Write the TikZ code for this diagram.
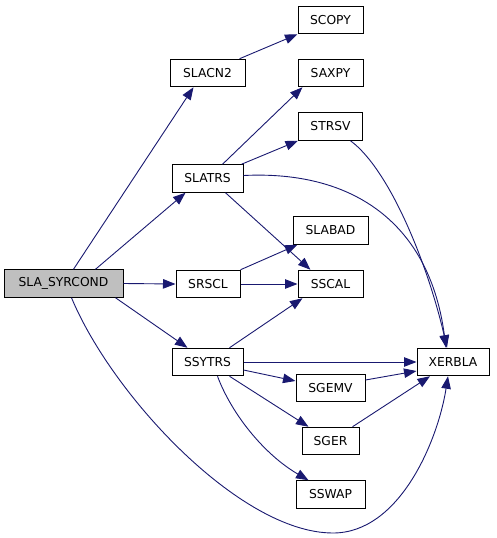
\documentclass[tikz,border=0pt]{standalone}
\usepackage{fontspec}
\setmainfont{DejaVu Sans}
\usetikzlibrary{arrows.meta}
\definecolor{edgec}{RGB}{25,25,112}
\begin{document}
\begin{tikzpicture}[x=1pt,y=-1pt,
  box/.style={draw=black, line width=1pt, fill=white, minimum height=27.5pt, inner sep=0pt,
    font=\fontsize{12.3}{14}\selectfont},
  e/.style={draw=edgec, line width=0.9pt, -{Triangle[length=12.5pt,width=9.5pt]}}]
\useasboundingbox (0,0) rectangle (496,538);
\node[box, minimum width=119pt, fill=gray!50] (main) at (63.5,283.5) {SLA\_SYRCOND};
\node[box, minimum width=75pt] (slacn2) at (207.5,73) {SLACN2};
\node[box, minimum width=65pt] (scopy) at (330.5,20) {SCOPY};
\node[box, minimum width=65pt] (saxpy) at (330.5,73) {SAXPY};
\node[box, minimum width=64pt] (strsv) at (330.5,126.5) {STRSV};
\node[box, minimum width=71pt] (slatrs) at (207.5,178.5) {SLATRS};
\node[box, minimum width=75pt] (slabad) at (330.5,230.5) {SLABAD};
\node[box, minimum width=64pt] (srscl) at (208,284) {SRSCL};
\node[box, minimum width=65pt] (sscal) at (330.5,284) {SSCAL};
\node[box, minimum width=71pt] (ssytrs) at (207.5,362) {SSYTRS};
\node[box, minimum width=72pt] (xerbla) at (453,362) {XERBLA};
\node[box, minimum width=69pt] (sgemv) at (330.5,388) {SGEMV};
\node[box, minimum width=57pt] (sger) at (330.5,441) {SGER};
\node[box, minimum width=69pt] (sswap) at (330.5,494.5) {SSWAP};

\draw[e] ([xshift=10pt]main.north) -- ([xshift=-14pt]slacn2.south);
\draw[e] ([xshift=32pt]main.north) -- ([xshift=-22pt]slatrs.south);
\draw[e] (main.east) -- (srscl.west);
\draw[e] ([xshift=52pt]main.south) -- ([xshift=-20pt]ssytrs.north);
\draw[e] ([xshift=8pt]main.south) .. controls (112,395) and (240,533) .. (333,533)
  .. controls (400,533) and (438,440) .. ([xshift=-5pt]xerbla.south);
\draw[e] ([xshift=32pt]slacn2.north) -- (scopy.south west);
\draw[e] ([xshift=15pt]slatrs.north) -- ([xshift=-28pt]saxpy.south);
\draw[e] ([xshift=-2pt]slatrs.north east) -- (strsv.south west);
\draw[e] ([yshift=3pt]slatrs.east) .. controls (355,170) and (430,225) .. ([xshift=-7pt]xerbla.north);
\draw[e] ([xshift=18pt]slatrs.south) -- ([xshift=-20pt]sscal.north);
\draw[e] ([xshift=20pt]strsv.south) .. controls (390,170) and (428,265) .. ([xshift=-6pt]xerbla.north);
\draw[e] (srscl.north east) -- ([xshift=5pt]slabad.south west);
\draw[e] (srscl.east) -- (sscal.west);
\draw[e] ([xshift=22pt]ssytrs.north) -- ([xshift=5pt]sscal.south west);
\draw[e] (ssytrs.east) -- (xerbla.west);
\draw[e] ([yshift=-8pt]ssytrs.east) -- ([yshift=7pt]sgemv.west);
\draw[e] ([xshift=22pt]ssytrs.south) -- ([xshift=-22pt]sger.north);
\draw[e] ([xshift=10pt]ssytrs.south) .. controls (232,415) and (265,455) .. ([xshift=-22pt]sswap.north);
\draw[e] ([yshift=8pt]sgemv.east) -- ([yshift=-9pt]xerbla.west);
\draw[e] ([xshift=22pt]sger.north) -- ([xshift=-23pt]xerbla.south);
\end{tikzpicture}
\end{document}
